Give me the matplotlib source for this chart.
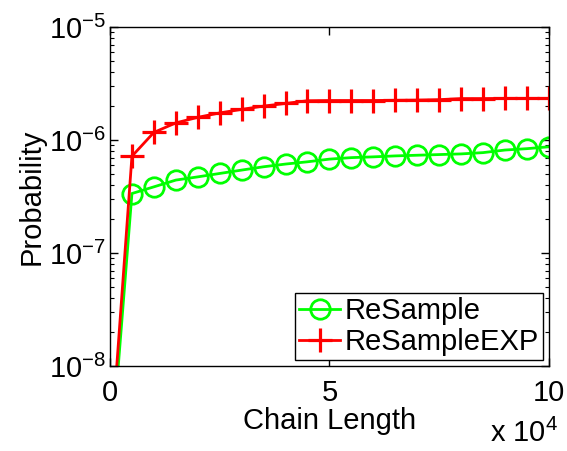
import numpy as np
import matplotlib
matplotlib.use("Agg")
import matplotlib.pyplot as plt
from matplotlib.ticker import FuncFormatter, LogLocator, NullFormatter

plt.rcParams['font.family'] = ['Liberation Sans', 'DejaVu Sans']
plt.rcParams['mathtext.fontset'] = 'custom'
plt.rcParams['mathtext.rm'] = 'Liberation Sans'
plt.rcParams['mathtext.it'] = 'Liberation Sans'

# chain lengths 0..100000 in steps of 5000
chain_length = [0, 5000, 10000, 15000, 20000, 25000, 30000, 35000, 40000, 45000, 50000,
                55000, 60000, 65000, 70000, 75000, 80000, 85000, 90000, 95000, 100000]

resample = [1.2e-9, 3.37e-7, 3.86e-7, 4.43e-7, 4.73e-7, 5.07e-7, 5.43e-7, 5.81e-7, 6.14e-7,
            6.43e-7, 6.79e-7, 7.0e-7, 7.11e-7, 7.25e-7, 7.35e-7, 7.45e-7, 7.55e-7, 7.75e-7,
            8.17e-7, 8.4e-7, 8.73e-7]
resample_exp = [1.5e-9, 7.2e-7, 1.17e-6, 1.42e-6, 1.59e-6, 1.74e-6, 1.87e-6, 2.0e-6, 2.11e-6,
                2.23e-6, 2.24e-6, 2.24e-6, 2.24e-6, 2.25e-6, 2.26e-6, 2.28e-6, 2.33e-6, 2.33e-6,
                2.34e-6, 2.34e-6, 2.34e-6]

fs = 21

fig = plt.figure(figsize=(5.67, 4.51), dpi=100)
ax = fig.add_axes([0.194, 0.188, 0.774, 0.752])

ax.semilogy(chain_length, resample, color='#00ff00', marker='o', markersize=14,
            markerfacecolor='none', markeredgewidth=2, linewidth=2, label='ReSample')
ax.semilogy(chain_length, resample_exp, color='#ff0000', marker='+', markersize=17,
            markeredgewidth=2.3, linewidth=2, label='ReSampleEXP')

ax.set_xlim(0, 100000)
ax.set_ylim(1e-8, 1e-5)
ax.set_xticks([0, 50000, 100000])
ax.xaxis.set_major_formatter(FuncFormatter(lambda v, p: '%g' % (v / 1e4)))
ax.yaxis.set_major_locator(LogLocator(base=10, numticks=10))
ax.yaxis.set_minor_locator(LogLocator(base=10, subs=np.arange(2, 10), numticks=10))
ax.yaxis.set_minor_formatter(NullFormatter())
ax.yaxis.set_major_formatter(FuncFormatter(lambda v, p: r'$10^{%d}$' % round(np.log10(v))))

ax.tick_params(which='both', direction='in', top=True, right=True, labelsize=fs)
ax.tick_params(which='major', length=6, width=1)
ax.tick_params(which='minor', length=3, width=0.8)
ax.tick_params(axis='x', pad=9)
ax.tick_params(axis='y', pad=3)
for s in ax.spines.values():
    s.set_linewidth(1)

ax.set_xlabel('Chain Length', fontsize=fs, labelpad=0)
ax.set_ylabel('Probability', fontsize=fs, labelpad=2)
fig.text(0.984, 0.072, r'x $10^{4}$', ha='right', va='top', fontsize=fs)

leg = ax.legend(loc='lower right', fontsize=fs, fancybox=False, framealpha=1,
                edgecolor='black', borderpad=0.15, handlelength=1.4, handletextpad=0.15,
                labelspacing=0.1, borderaxespad=0.2)
leg.get_frame().set_linewidth(1)

fig.savefig('out.png', dpi=100)
